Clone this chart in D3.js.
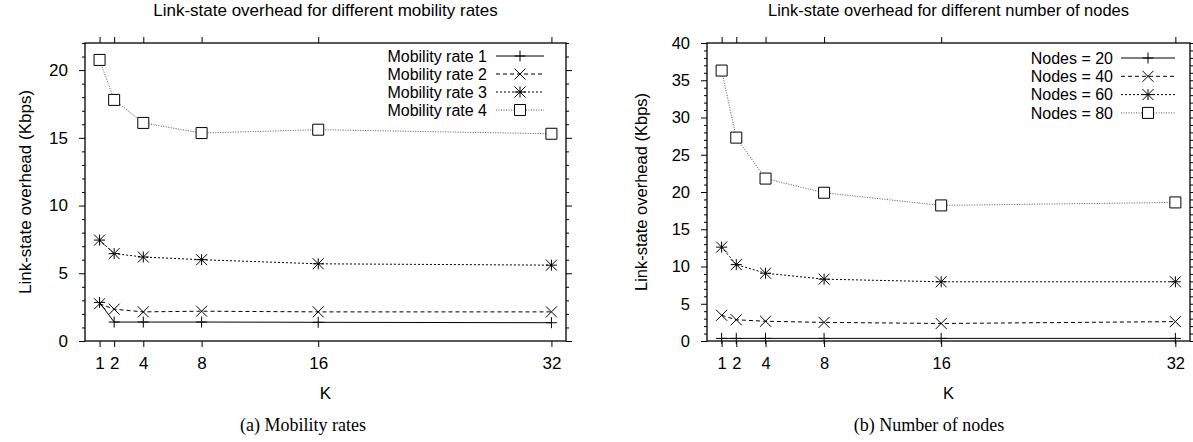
<!DOCTYPE html>
<html>
<head>
<meta charset="utf-8">
<script src="https://cdn.jsdelivr.net/npm/d3@7"></script>
<style>
  body { margin: 0; background: #fff; }
  svg { display: block; }
</style>
</head>
<body>
<div id="chart"></div>
<script>
// K values on the x axis (both panels)
var kValues = [1, 2, 4, 8, 16, 32];

// (a) mobility rates
var mobility1 = [2.85, 1.4, 1.4, 1.4, 1.38, 1.35];
var mobility2 = [2.75, 2.35, 2.15, 2.2, 2.15, 2.15];
var mobility3 = [7.45, 6.45, 6.2, 6.0, 5.7, 5.6];
var mobility4 = [20.75, 17.8, 16.1, 15.35, 15.6, 15.3];
var mobilityNames = ["Mobility rate 1", "Mobility rate 2", "Mobility rate 3", "Mobility rate 4"];

// (b) number of nodes
var nodes20 = [0.35, 0.35, 0.35, 0.35, 0.35, 0.35];
var nodes40 = [3.45, 2.85, 2.65, 2.5, 2.35, 2.6];
var nodes60 = [12.6, 10.25, 9.1, 8.3, 7.95, 7.95];
var nodes80 = [36.3, 27.3, 21.8, 19.9, 18.2, 18.6];
var nodesNames = ["Nodes = 20", "Nodes = 40", "Nodes = 60", "Nodes = 80"];

var yTicksA = [0, 5, 10, 15, 20];
var yTicksB = [0, 5, 10, 15, 20, 25, 30, 35, 40];

var W = 1193, H = 442;
var svg = d3.select("#chart").append("svg")
  .attr("width", W)
  .attr("height", H)
  .style("font-family", "'Liberation Sans', Arial, sans-serif");

// line style + marker per series index
var styles = [
  { dash: null, color: "#000", mark: "plus" },
  { dash: "4,3", color: "#000", mark: "cross" },
  { dash: "2,2", color: "#000", mark: "star" },
  { dash: "1,1.5", color: "#555", mark: "square" }
];

function marker(g, type, x, y) {
  var s = 5.5;
  var p = d3.path();
  if (type == "plus" || type == "star") {
    p.moveTo(x - s, y); p.lineTo(x + s, y);
    p.moveTo(x, y - s); p.lineTo(x, y + s);
  }
  if (type == "cross" || type == "star") {
    p.moveTo(x - s, y - s); p.lineTo(x + s, y + s);
    p.moveTo(x - s, y + s); p.lineTo(x + s, y - s);
  }
  if (type == "square") {
    p.rect(x - s, y - s, 2 * s, 2 * s);
  }
  g.append("path").attr("d", p.toString())
    .attr("fill", type == "square" ? "#fff" : "none")
    .attr("stroke", "#000").attr("stroke-width", 1);
}

function drawPanel(cfg) {
  var g = svg.append("g");
  var x = d3.scaleLinear().domain([0, 33]).range([cfg.left, cfg.right]);
  var y = d3.scaleLinear().domain([0, cfg.ymax]).range([cfg.bottom, cfg.top]);
  var fs = cfg.fontSize;

  // minor y ticks (outward, both sides)
  var minor = d3.range(0, cfg.ymax + 0.001, cfg.minorStep)
    .filter(function(v) { return cfg.yTicks.indexOf(v) < 0; });
  g.append("g").attr("transform", "translate(" + cfg.left + ",0)")
    .call(d3.axisLeft(y).tickValues(minor).tickSize(3).tickFormat(""))
    .call(function(a) { a.select(".domain").remove(); });
  g.append("g").attr("transform", "translate(" + cfg.right + ",0)")
    .call(d3.axisRight(y).tickValues(minor).tickSize(3).tickFormat(""))
    .call(function(a) { a.select(".domain").remove(); });

  // major ticks
  var yl = g.append("g").attr("transform", "translate(" + cfg.left + ",0)")
    .call(d3.axisLeft(y).tickValues(cfg.yTicks).tickSize(6).tickPadding(11).tickFormat(d3.format("d")));
  yl.select(".domain").remove();
  g.append("g").attr("transform", "translate(" + cfg.right + ",0)")
    .call(d3.axisRight(y).tickValues(cfg.yTicks).tickSize(6).tickFormat(""))
    .select(".domain").remove();
  var xb = g.append("g").attr("transform", "translate(0," + cfg.bottom + ")")
    .call(d3.axisBottom(x).tickValues(kValues).tickSize(6).tickPadding(10).tickFormat(d3.format("d")));
  xb.select(".domain").remove();
  g.append("g").attr("transform", "translate(0," + cfg.top + ")")
    .call(d3.axisTop(x).tickValues(kValues).tickSize(6).tickFormat(""))
    .select(".domain").remove();

  g.selectAll(".tick line").attr("stroke", "#000").attr("stroke-width", 1);
  g.selectAll(".tick text").attr("fill", "#000").style("font-size", fs + "px")
    .style("font-family", "'Liberation Sans', Arial, sans-serif");

  // box
  g.append("rect")
    .attr("x", cfg.left).attr("y", cfg.top)
    .attr("width", cfg.right - cfg.left).attr("height", cfg.bottom - cfg.top)
    .attr("fill", "none").attr("stroke", "#000").attr("stroke-width", 1.3);

  // series
  var line = d3.line()
    .x(function(d) { return x(d[0]); })
    .y(function(d) { return y(d[1]); });
  cfg.series.forEach(function(vals, i) {
    var pts = kValues.map(function(k, j) { return [k, vals[j]]; });
    g.append("path").datum(pts)
      .attr("d", line)
      .attr("fill", "none")
      .attr("stroke", styles[i].color)
      .attr("stroke-width", 1)
      .attr("stroke-dasharray", styles[i].dash);
    pts.forEach(function(p) { marker(g, styles[i].mark, x(p[0]), y(p[1])); });
  });

  // legend
  cfg.names.forEach(function(name, i) {
    var ly = cfg.legTop + i * cfg.legStep;
    g.append("text")
      .attr("x", cfg.legText).attr("y", ly)
      .attr("dy", "0.35em")
      .attr("text-anchor", "end")
      .style("font-size", cfg.legFont + "px")
      .text(name);
    g.append("line")
      .attr("x1", cfg.legLine[0]).attr("x2", cfg.legLine[1])
      .attr("y1", ly).attr("y2", ly)
      .attr("stroke", styles[i].color)
      .attr("stroke-width", 1)
      .attr("stroke-dasharray", styles[i].dash);
    marker(g, styles[i].mark, (cfg.legLine[0] + cfg.legLine[1]) / 2, ly);
  });

  // titles and labels
  var cx = (cfg.left + cfg.right) / 2;
  g.append("text").attr("x", cx).attr("y", 16)
    .attr("text-anchor", "middle").style("font-size", fs + "px")
    .text(cfg.title);
  g.append("text").attr("x", cx).attr("y", 399)
    .attr("text-anchor", "middle").style("font-size", fs + "px")
    .text("K");
  g.append("text")
    .attr("transform", "translate(" + cfg.ylabelX + "," + ((cfg.top + cfg.bottom) / 2) + ") rotate(-90)")
    .attr("dy", "0.35em")
    .attr("text-anchor", "middle").style("font-size", fs + "px")
    .text("Link-state overhead (Kbps)");
  g.append("text").attr("x", cfg.capX).attr("y", 431)
    .attr("text-anchor", "middle")
    .style("font-family", "'Liberation Serif', 'Times New Roman', serif")
    .style("font-size", "18px")
    .text(cfg.caption);
}

drawPanel({
  left: 85, right: 566, top: 43, bottom: 341,
  ymax: 22, yTicks: yTicksA, minorStep: 1, fontSize: 17,
  series: [mobility1, mobility2, mobility3, mobility4],
  names: mobilityNames, legFont: 16,
  legTop: 56, legStep: 18, legText: 487, legLine: [496, 544],
  title: "Link-state overhead for different mobility rates",
  ylabelX: 25, capX: 303, caption: "(a) Mobility rates"
});

drawPanel({
  left: 707, right: 1190, top: 43, bottom: 341,
  ymax: 40, yTicks: yTicksB, minorStep: 1, fontSize: 16.5,
  series: [nodes20, nodes40, nodes60, nodes80],
  names: nodesNames, legFont: 16,
  legTop: 58, legStep: 18.3, legText: 1113, legLine: [1121, 1175],
  title: "Link-state overhead for different number of nodes",
  ylabelX: 641, capX: 929, caption: "(b) Number of nodes"
});
</script>
</body>
</html>
